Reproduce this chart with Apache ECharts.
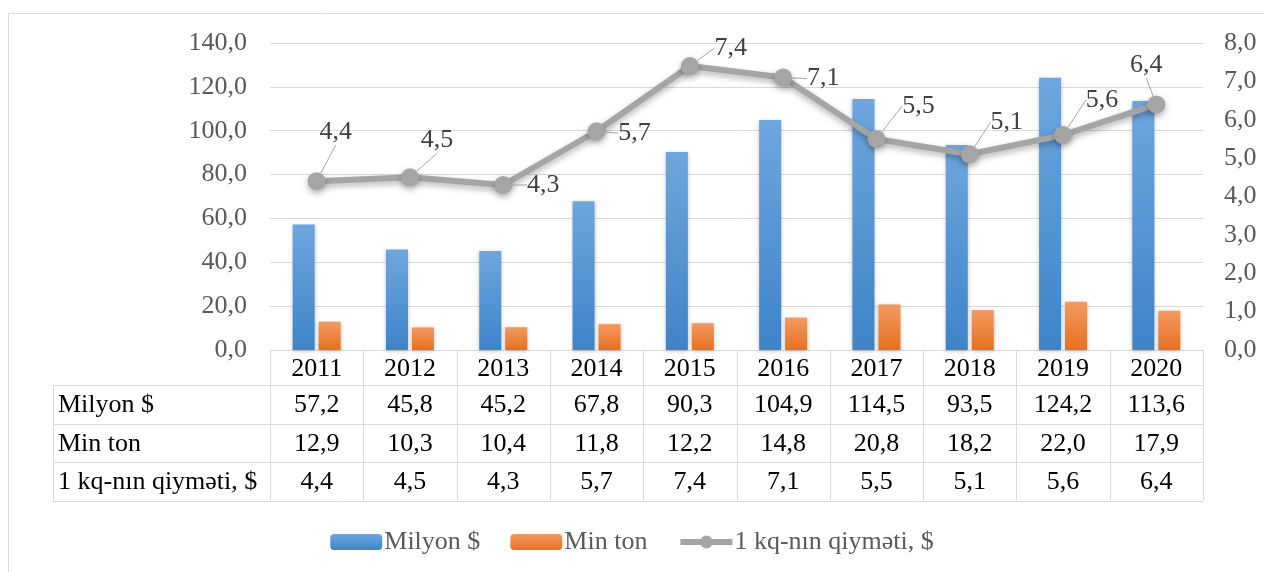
<!DOCTYPE html>
<html>
<head>
<meta charset="utf-8">
<script src="https://cdn.jsdelivr.net/npm/echarts@6/dist/echarts.min.js"></script>
<style>
html,body{margin:0;padding:0;background:#fff;}
#main{width:1264px;height:572px;}
</style>
</head>
<body>
<div id="main"></div>
<script>
var years = ['2011','2012','2013','2014','2015','2016','2017','2018','2019','2020'];
var milyon = [57.2, 45.8, 45.2, 67.8, 90.3, 104.9, 114.5, 93.5, 124.2, 113.6];
var minTon = [12.9, 10.3, 10.4, 11.8, 12.2, 14.8, 20.8, 18.2, 22.0, 17.9];
var qiymet = [4.4, 4.5, 4.3, 5.7, 7.4, 7.1, 5.5, 5.1, 5.6, 6.4];
var rowNames = ['Milyon $', 'Min ton', '1 kq-nın qiyməti, $'];

var FONT = 'Liberation Serif';
// plot area
var G = {left: 270, right: 61, top: 43, bottom: 222};
var W = 1264, H = 572;
var plotW = W - G.left - G.right;
var cellW = plotW / years.length;
var y0 = H - G.bottom;       // x axis line
var headH = 35, rowH = 38.5;
var tableLeft = 53;
var lineCol = '#d9d9d9';

function fmt(v){ return v.toFixed(1).replace('.', ','); }

// label offsets for the line's data labels (dx, dy from the point)
var labelOff = [[19,-49],[27,-37],[40,0],[38,2],[41,-18],[40,1],[42,-33],[37,-32],[39,-35],[-10,-39]];

var graphic = [];
// outer frame
graphic.push({type:'rect', shape:{x:8.5, y:13.5, width:1280, height:600}, style:{fill:'none', stroke:'#d9d9d9', lineWidth:1}, silent:true});
// table lines
var tBottom = y0 + headH + rowH * 3;
graphic.push({type:'line', shape:{x1:G.left, y1:y0+0.5, x2:G.left+plotW, y2:y0+0.5}, style:{stroke:lineCol, lineWidth:1}});
for (var r = 0; r <= 3; r++) {
    var yy = Math.round(y0 + headH + rowH * r) + 0.5;
    graphic.push({type:'line', shape:{x1:tableLeft, y1:yy, x2:G.left+plotW, y2:yy}, style:{stroke:lineCol, lineWidth:1}});
}
graphic.push({type:'line', shape:{x1:tableLeft+0.5, y1:y0+headH, x2:tableLeft+0.5, y2:tBottom}, style:{stroke:lineCol, lineWidth:1}});
for (var c = 0; c <= years.length; c++) {
    var xx = Math.round(G.left + cellW * c) + 0.5;
    graphic.push({type:'line', shape:{x1:xx, y1:y0, x2:xx, y2:tBottom}, style:{stroke:lineCol, lineWidth:1}});
}
// row texts
var rowData = [milyon, minTon, qiymet];
for (var r2 = 0; r2 < 3; r2++) {
    var cy = y0 + headH + rowH * r2 + rowH / 2 + 1;
    graphic.push({type:'text', x:tableLeft + 5, y:cy, style:{text:rowNames[r2], fontFamily:FONT, fontSize:26, fill:'#000', verticalAlign:'middle', align:'left'}});
    for (var c2 = 0; c2 < years.length; c2++) {
        graphic.push({type:'text', x:G.left + cellW * (c2 + 0.5), y:cy, style:{text:fmt(rowData[r2][c2]), fontFamily:FONT, fontSize:26, fill:'#000', verticalAlign:'middle', align:'center'}});
    }
}

var myChart = echarts.init(document.getElementById('main'));
var option = {
    animation: false,
    backgroundColor: '#fff',
    textStyle: {fontFamily: FONT},
    grid: {left: G.left, right: G.right, top: G.top, bottom: G.bottom, containLabel: false},
    legend: {
        bottom: 12,
        left: 'center',
        itemWidth: 52,
        itemHeight: 16,
        itemGap: 30,
        lineStyle: {width: 6},
        textStyle: {fontFamily: FONT, fontSize: 26, color: '#595959', padding: [0,0,0,-3]},
        data: ['Milyon $', 'Min ton', '1 kq-nın qiyməti, $']
    },
    xAxis: {
        type: 'category',
        data: years,
        axisLine: {show: false},
        axisTick: {show: false},
        axisLabel: {fontFamily: FONT, fontSize: 26, color: '#000', margin: 6}
    },
    yAxis: [
        {
            type: 'value', min: 0, max: 140, interval: 20,
            axisLine: {show: false}, axisTick: {show: false},
            splitLine: {lineStyle: {color: lineCol, width: 1}},
            axisLabel: {fontFamily: FONT, fontSize: 26, color: '#595959', margin: 23, formatter: fmt}
        },
        {
            type: 'value', min: 0, max: 8, interval: 1,
            axisLine: {show: false}, axisTick: {show: false},
            splitLine: {show: false},
            axisLabel: {fontFamily: FONT, fontSize: 26, color: '#595959', margin: 21, formatter: fmt}
        }
    ],
    series: [
        {
            name: 'Milyon $',
            type: 'bar',
            data: milyon,
            barWidth: 22,
            barGap: '18%',
            itemStyle: {
                color: new echarts.graphic.LinearGradient(0, 0, 0, 1, [
                    {offset: 0, color: '#6ea6de'},
                    {offset: 1, color: '#3d84c8'}
                ]),
                shadowColor: 'rgba(0,0,0,0.25)', shadowBlur: 4, shadowOffsetY: 1
            }
        },
        {
            name: 'Min ton',
            type: 'bar',
            data: minTon,
            barWidth: 22,
            itemStyle: {
                color: new echarts.graphic.LinearGradient(0, 0, 0, 1, [
                    {offset: 0, color: '#f29a62'},
                    {offset: 1, color: '#e8701d'}
                ]),
                shadowColor: 'rgba(0,0,0,0.25)', shadowBlur: 4, shadowOffsetY: 1
            }
        },
        {
            name: '1 kq-nın qiyməti, $',
            type: 'line',
            yAxisIndex: 1,
            data: qiymet,
            symbol: 'circle',
            symbolSize: 18,
            z: 5,
            lineStyle: {color: '#a5a5a5', width: 6, shadowColor: 'rgba(0,0,0,0.3)', shadowBlur: 6, shadowOffsetY: 3},
            itemStyle: {color: '#a5a5a5', shadowColor: 'rgba(0,0,0,0.3)', shadowBlur: 6, shadowOffsetY: 3},
            label: {
                show: true,
                position: 'inside',
                fontFamily: FONT, fontSize: 26, color: '#404040',
                formatter: function (p) { return fmt(p.value); }
            },
            labelLine: {show: true, lineStyle: {color: '#a5a5a5', width: 1}},
            labelLayout: function (p) {
                var o = labelOff[p.dataIndex];
                return {dx: o[0], dy: o[1]};
            }
        }
    ],
    graphic: graphic
};
myChart.setOption(option);
</script>
</body>
</html>
